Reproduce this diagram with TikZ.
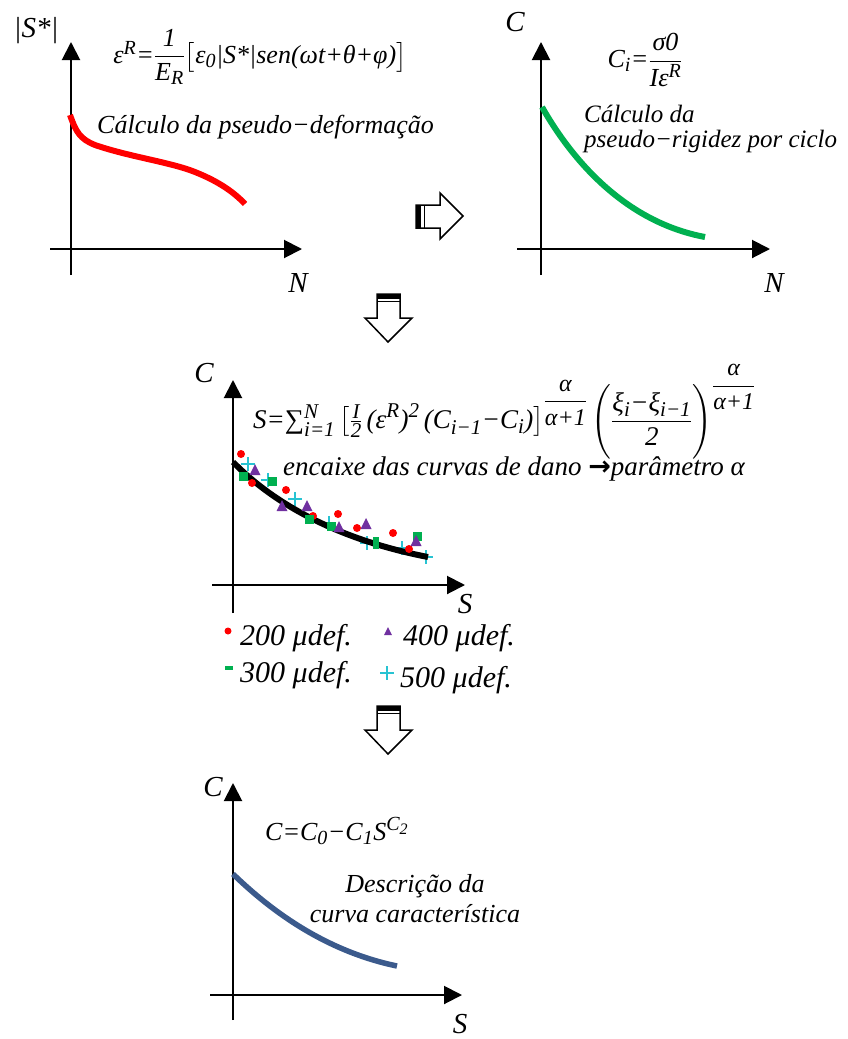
\documentclass[tikz,border=0pt]{standalone}
\usepackage{amsmath}
\usepackage{fontspec}
\setmainfont{Liberation Serif}
\newfontfamily\djv{DejaVu Sans}
\usetikzlibrary{arrows.meta}
\DeclareMathSizes{26}{26}{20}{16}
\DeclareMathSizes{27}{27}{21}{17}
\definecolor{cred}{RGB}{255,0,0}
\definecolor{cgreen}{RGB}{0,176,80}
\definecolor{cpurple}{RGB}{112,48,160}
\definecolor{ccyan}{RGB}{40,195,210}
\definecolor{cblue}{RGB}{59,90,140}
\newcommand{\tx}[1]{\text{\itshape #1}}
\newcommand{\sfr}[2]{\genfrac{}{}{0.8pt}{0}{\text{\fontsize{24}{26}\selectfont\itshape #1}}{\text{\fontsize{24}{26}\selectfont\itshape #2}}}
\newcommand{\mkcirc}[2]{\fill[cred] (#1,#2) circle (4pt);}
\newcommand{\mksq}[2]{\fill[cgreen] (#1,#2) ++(-4.5,-4.5) rectangle ++(9,9);}
\newcommand{\mktri}[2]{\fill[cpurple] (#1,#2) ++(0,-7) -- ++(5.5,11) -- ++(-11,0) -- cycle;}
\newcommand{\mkplus}[2]{\draw[ccyan,line width=1.1pt] (#1,#2) ++(-7,0) -- ++(14,0) (#1,#2) ++(0,-7) -- ++(0,14);}
\begin{document}
\begin{tikzpicture}[x=1pt,y=-1pt,
  axis/.style={line width=2pt,-{Triangle[length=18pt,width=18pt]}},
  lbl/.style={font=\fontsize{29}{34}\selectfont\itshape,inner sep=0pt},
  desc/.style={font=\fontsize{26}{30}\selectfont\itshape,inner sep=0pt},
  frm/.style={font=\fontsize{26}{30}\selectfont,inner sep=0pt},
  leg/.style={font=\fontsize{30}{34}\selectfont\itshape,inner sep=0pt,anchor=base west},
  curve/.style={line width=6pt},
  blockarr/.style={draw=black,fill=white,line width=1.5pt,line join=miter}]
\useasboundingbox (0,0) rectangle (848,1039);

% ---------- panel 1 ----------
\draw[axis] (71,275) -- (71,42);
\draw[axis] (50,249) -- (302,249);
\node[lbl] (s1) at (36,31) {|S*|};
\node[lbl] (n1) at (298,283) {N};
\draw[curve,cred] (70,115) .. controls (76,132) and (80,139) .. (95,145) .. controls (130,157) and (170,162) .. (195,172) .. controls (215,180) and (232,190) .. (245,204);
\node[frm] (f1) at (260,57) {$\tx{ε}^{\tx{R}}\tx{=}\dfrac{\tx{1}}{\tx{E}_{\tx{R}}}\bigl[\tx{ε}_{\tx{0}}\tx{|S*|sen(ωt+θ+φ)}\bigr]$};
\node[desc,anchor=base west] (d1) at (97,133) {Cálculo da pseudo−deformação};

% ---------- arrow right ----------
\draw[blockarr] (416,205) -- (440,205) -- (440,193) -- (463,216) -- (440,239) -- (440,228) -- (416,228) -- cycle;
\fill (416,205) rectangle (421,228);
\draw[line width=1pt] (424,205) -- (424,228);

% ---------- panel 2 ----------
\draw[axis] (541,275) -- (541,42);
\draw[axis] (517,249) -- (770,249);
\node[lbl] (c2) at (515,22) {C};
\node[lbl] (n2) at (774,283) {N};
\draw[curve,cgreen] (542,107) .. controls (572,160) and (625,222) .. (705,237);
\node[frm] (f2) at (645,60) {$\tx{C}_{\tx{i}}\tx{=}\dfrac{\tx{σ0}}{\tx{Iε}^{\tx{R}}}$};
\node[desc,anchor=base west,align=left,font=\fontsize{25}{25}\selectfont\itshape] (d2) at (584,147) {Cálculo da\\pseudo−rigidez por ciclo};

% ---------- arrow down 1 ----------
\draw[blockarr] (377,294) -- (400,294) -- (400,318) -- (412,318) -- (388,342) -- (365,318) -- (377,318) -- cycle;
\fill (377,294) rectangle (400,298.5);
\draw[line width=1pt] (377,301.5) -- (400,301.5);

% ---------- panel 3 ----------
\draw[axis] (233,613) -- (233,380);
\draw[axis] (212,585) -- (465,585);
\node[lbl] (c3) at (204,373) {C};
\node[lbl] (s3) at (465,604) {S};
\mkplus{248}{464}\mkplus{268}{480}\mkplus{295}{499}\mkplus{329}{523}\mkplus{367}{543}\mkplus{402}{548}\mkplus{426}{557}
\draw[curve,black] (233,462) .. controls (275,505) and (340,540) .. (428,557);
\mkcirc{241}{454}\mkcirc{252}{483}\mkcirc{286}{490}\mkcirc{313}{516}\mkcirc{338}{514}\mkcirc{357}{528}\mkcirc{393}{533}\mkcirc{409}{549}
\mksq{243}{476}\mksq{272}{481}\mksq{309}{519}\mksq{331}{526}\fill[cgreen] (373,537) rectangle (379,549);\mksq{417}{536}
\mktri{255}{471}\mktri{282}{507}\mktri{307}{507}\mktri{339}{528}\mktri{366}{525}\mktri{416}{542}
\node[frm,font=\fontsize{27}{30}\selectfont,anchor=base west] (f3) at (253,428) {$\tx{S=}\tx{∑}^{\tx{N}}_{\tx{i=1}}\,\bigl[\tfrac{\tx{I}}{\tx{2}}\,\tx{(ε}^{\tx{R}}\tx{)}^{\tx{2}}\,\tx{(C}_{\tx{i−1}}\tx{−C}_{\tx{i}}\tx{)}\bigr]^{\sfr{α}{α+1}}\,\Biggl(\dfrac{\tx{ξ}_{\tx{i}}\tx{−ξ}_{\tx{i−1}}}{\tx{2}}\Biggr)^{\sfr{α}{α+1}}$};
\node[desc,anchor=base west,font=\fontsize{27}{30}\selectfont\itshape] (d3) at (283,475) {encaixe das curvas de dano {\djv\bfseries\upshape →}parâmetro α};

% legend
\fill[cred] (228,631) circle (3.5pt);
\node[leg] (l200) at (240,645) {200 μdef.};
\fill[cpurple] (388,627) -- (392,635) -- (384,635) -- cycle;
\node[leg] (l400) at (403,645) {400 μdef.};
\fill[cgreen] (225,666) rectangle (233,670);
\node[leg] (l300) at (240,682) {300 μdef.};
\draw[ccyan,line width=1.1pt] (380,673) -- (394,673) (387,666) -- (387,680);
\node[leg] (l500) at (400,687) {500 μdef.};

% ---------- arrow down 2 ----------
\begin{scope}[yshift=-412pt]
\draw[blockarr] (377,294) -- (400,294) -- (400,318) -- (412,318) -- (388,342) -- (365,318) -- (377,318) -- cycle;
\fill (377,294) rectangle (400,298.5);
\draw[line width=1pt] (377,301.5) -- (400,301.5);
\end{scope}

% ---------- panel 4 ----------
\draw[axis] (233,1020) -- (233,783);
\draw[axis] (210,995) -- (462,995);
\node[lbl] (c4) at (213,787) {C};
\node[lbl] (s4) at (460,1024) {S};
\draw[curve,cblue,line width=5.5pt] (233,874) .. controls (265,905) and (320,950) .. (397,966);
\node[frm,anchor=base west] (f4) at (265,840) {$\tx{C=C}_{\tx{0}}\tx{−C}_{\tx{1}}\tx{S}^{\tx{C}_{\tx{2}}}$};
\node[desc,anchor=base,align=center,font=\fontsize{26}{30}\selectfont\itshape] (d4) at (415,922) {Descrição da\\curva característica};
\end{tikzpicture}
\end{document}
